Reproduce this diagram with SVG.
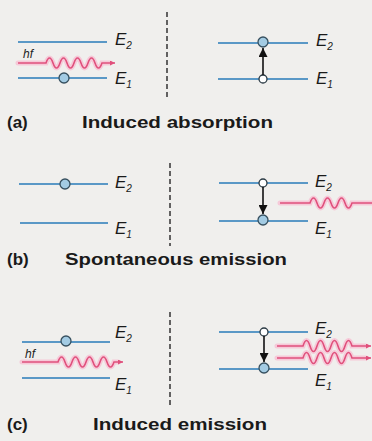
<svg xmlns="http://www.w3.org/2000/svg" width="372" height="441" viewBox="0 0 372 441">
<defs>
<style>
.lvl{stroke:#5a98c6;stroke-width:2;fill:none}
.full{fill:#a3cbe3;stroke:#37505f;stroke-width:1.3}
.empty{fill:#ffffff;stroke:#2b3a44;stroke-width:1.3}
.tr{stroke:#111;stroke-width:1.6;fill:none}
.dash{stroke:#333;stroke-width:1.5;stroke-dasharray:5 3;fill:none}
.glow{stroke:#f6c9d8;stroke-width:5;fill:none;stroke-linecap:round}
.wave{stroke:#e0507c;stroke-width:1.6;fill:none}
.lab{font-family:"Liberation Sans",Arial,sans-serif;font-style:italic;font-size:17px;fill:#1a1a1a}
.sub{font-size:10px}
.hf{font-family:"Liberation Sans",Arial,sans-serif;font-style:italic;font-size:12px;fill:#222}
.ttl{font-family:"Liberation Sans",Arial,sans-serif;font-weight:bold;font-size:17px;fill:#1a1a1a}
</style>
<marker id="ah" viewBox="0 0 10 10" refX="10" refY="5" markerWidth="12" markerHeight="9" markerUnits="userSpaceOnUse" orient="auto"><path d="M0,0 L10,5 L0,10 Z" fill="#111"/></marker>
<marker id="ph" viewBox="0 0 10 10" refX="10" refY="5" markerWidth="6" markerHeight="5" markerUnits="userSpaceOnUse" orient="auto"><path d="M0,0 L10,5 L0,10 Z" fill="#e0507c"/></marker>
</defs>
<rect width="372" height="441" fill="#f0efed"/>

<g id="dividers">
<line class="dash" x1="167" y1="12" x2="167" y2="98"/>
<line class="dash" x1="170" y1="163" x2="170" y2="246"/>
<line class="dash" x1="170" y1="312" x2="170" y2="407"/>
</g>

<g id="a-left">
<line class="lvl" x1="18" y1="42" x2="107" y2="42"/>
<line class="lvl" x1="18" y1="78" x2="107" y2="78"/>
<circle class="full" cx="64" cy="78" r="5"/>
<text class="lab" x="115" y="45">E<tspan class="sub" dy="4">2</tspan></text>
<text class="lab" x="115" y="84">E<tspan class="sub" dy="4">1</tspan></text>
<text class="hf" x="23" y="58">hf</text>
</g>
<g id="a-right">
<line class="lvl" x1="218" y1="43" x2="308" y2="43"/>
<line class="lvl" x1="218" y1="79" x2="308" y2="79"/>
<circle class="full" cx="263" cy="42" r="5"/>
<circle class="empty" cx="263" cy="79" r="4"/>
<text class="lab" x="316" y="46">E<tspan class="sub" dy="4">2</tspan></text>
<text class="lab" x="316" y="84">E<tspan class="sub" dy="4">1</tspan></text>
</g>

<g id="b-left">
<line class="lvl" x1="19" y1="184" x2="108" y2="184"/>
<line class="lvl" x1="20" y1="223" x2="108" y2="223"/>
<circle class="full" cx="65" cy="184" r="5"/>
<text class="lab" x="115" y="188">E<tspan class="sub" dy="4">2</tspan></text>
<text class="lab" x="115" y="234">E<tspan class="sub" dy="4">1</tspan></text>
</g>
<g id="b-right">
<line class="lvl" x1="219" y1="183" x2="308" y2="183"/>
<line class="lvl" x1="219" y1="221" x2="308" y2="221"/>
<circle class="empty" cx="263" cy="183" r="4"/>
<circle class="full" cx="263" cy="220" r="5"/>
<text class="lab" x="315" y="187">E<tspan class="sub" dy="4">2</tspan></text>
<text class="lab" x="315" y="234">E<tspan class="sub" dy="4">1</tspan></text>
</g>

<g id="c-left">
<line class="lvl" x1="22" y1="342" x2="110" y2="342"/>
<line class="lvl" x1="22" y1="378" x2="110" y2="378"/>
<circle class="full" cx="66" cy="341" r="5"/>
<text class="lab" x="115" y="338">E<tspan class="sub" dy="4">2</tspan></text>
<text class="lab" x="115" y="390">E<tspan class="sub" dy="4">1</tspan></text>
<text class="hf" x="25" y="358">hf</text>
</g>
<g id="c-right">
<line class="lvl" x1="219" y1="332" x2="308" y2="332"/>
<line class="lvl" x1="219" y1="369" x2="308" y2="369"/>
<circle class="empty" cx="264" cy="332" r="4"/>
<circle class="full" cx="264" cy="368" r="5"/>
<text class="lab" x="315" y="334">E<tspan class="sub" dy="4">2</tspan></text>
<text class="lab" x="315" y="386">E<tspan class="sub" dy="4">1</tspan></text>
</g>

<g id="connectors">
<line class="tr" x1="263" y1="75" x2="263" y2="48" marker-end="url(#ah)"/>
<line class="tr" x1="263" y1="187" x2="263" y2="214" marker-end="url(#ah)"/>
<line class="tr" x1="264" y1="336" x2="264" y2="362" marker-end="url(#ah)"/>
<path class="glow" d="M18,63 H46 q3.5,-10 7,0 t7,0 t7,0 t7,0 t7,0 t7,0 t7,0 t7,0 H110"/>
<path class="wave" d="M18,63 H46 q3.5,-10 7,0 t7,0 t7,0 t7,0 t7,0 t7,0 t7,0 t7,0 H115" marker-end="url(#ph)"/>
<path class="glow" d="M280,203 H310 q3.5,-10 7,0 t7,0 t7,0 t7,0 t7,0 t7,0 H372"/>
<path class="wave" d="M280,203 H310 q3.5,-10 7,0 t7,0 t7,0 t7,0 t7,0 t7,0 H372"/>
<path class="glow" d="M22,362 H58 q3.5,-10 7,0 t7,0 t7,0 t7,0 t7,0 t7,0 t7,0 t7,0 H118"/>
<path class="wave" d="M22,362 H58 q3.5,-10 7,0 t7,0 t7,0 t7,0 t7,0 t7,0 t7,0 t7,0 H123" marker-end="url(#ph)"/>
<path class="glow" d="M277,346 H303 q3.5,-11 7,0 t7,0 t7,0 t7,0 t7,0 t7,0 t7,0 H366"/>
<path class="wave" d="M277,346 H303 q3.5,-11 7,0 t7,0 t7,0 t7,0 t7,0 t7,0 t7,0 H371" marker-end="url(#ph)"/>
<path class="glow" d="M277,358 H303 q3.5,-11 7,0 t7,0 t7,0 t7,0 t7,0 t7,0 t7,0 H366"/>
<path class="wave" d="M277,358 H303 q3.5,-11 7,0 t7,0 t7,0 t7,0 t7,0 t7,0 t7,0 H371" marker-end="url(#ph)"/>
</g>

<g id="titles">
<text class="ttl" x="7" y="128">(a)</text>
<text class="ttl" x="82" y="128" textLength="191" lengthAdjust="spacingAndGlyphs">Induced absorption</text>
<text class="ttl" x="7" y="265">(b)</text>
<text class="ttl" x="65" y="265" textLength="222" lengthAdjust="spacingAndGlyphs">Spontaneous emission</text>
<text class="ttl" x="7" y="430">(c)</text>
<text class="ttl" x="93" y="430" textLength="174" lengthAdjust="spacingAndGlyphs">Induced emission</text>
</g>
</svg>
